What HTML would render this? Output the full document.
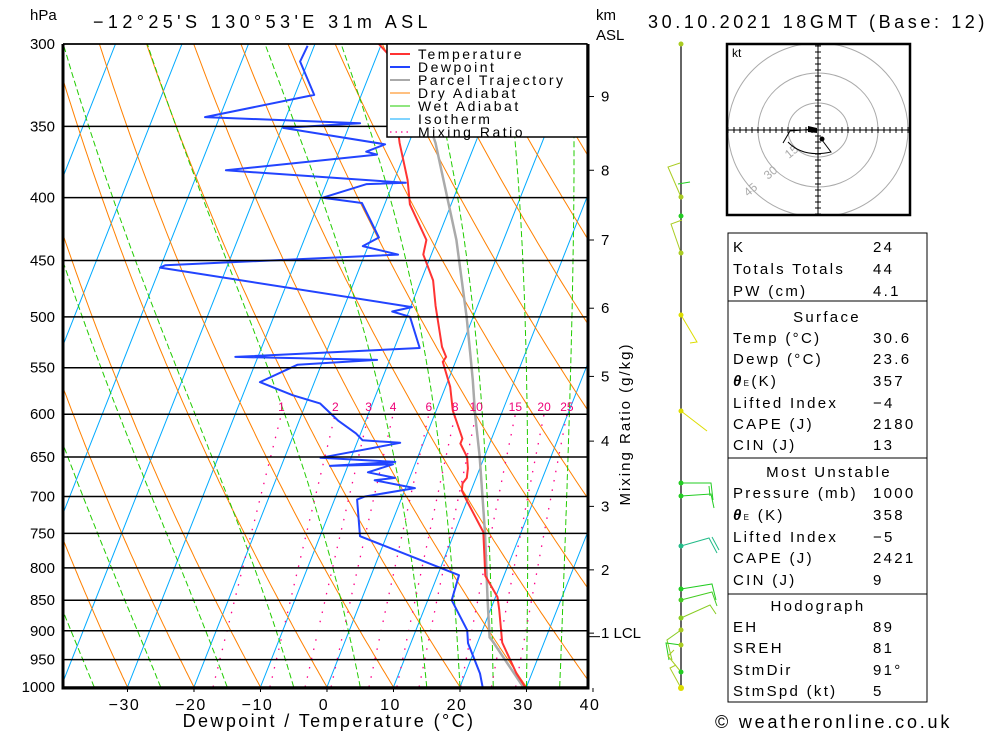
<!DOCTYPE html>
<html><head><meta charset="utf-8">
<style>
body{margin:0;background:#fff;}
svg{display:block;font-family:"Liberation Sans","DejaVu Sans",sans-serif;}
.t{font-size:15px;letter-spacing:2.3px;fill:#000;}
</style></head>
<body>
<svg id="chart" width="1000" height="733" viewBox="0 0 1000 733" xmlns="http://www.w3.org/2000/svg">
<defs><clipPath id="plotclip"><rect x="63" y="44" width="524" height="643"/></clipPath></defs>
<rect width="1000" height="733" fill="#fff"/>
<g id="bg" clip-path="url(#plotclip)"></g>
<g id="series" clip-path="url(#plotclip)"></g>
<g id="axes"></g>

<text x="30" y="20" font-size="15">hPa</text>
<text x="93" y="28" font-size="18" letter-spacing="4.4">−12°25'S 130°53'E 31m ASL</text>
<text x="596" y="20" font-size="15">km</text>
<text x="596" y="40" font-size="15">ASL</text>
<text x="648" y="28" font-size="18" letter-spacing="3.6">30.10.2021 18GMT (Base: 12)</text>
<text x="329" y="727" font-size="18" letter-spacing="2.4" text-anchor="middle">Dewpoint / Temperature (°C)</text>
<text x="630" y="424" font-size="15" letter-spacing="2" text-anchor="middle" transform="rotate(-90 630 424)">Mixing Ratio (g/kg)</text>
<text x="715" y="728" font-size="18" letter-spacing="2.8">© weatheronline.co.uk</text>

<g>
<rect x="387" y="44" width="200" height="93" fill="#fff" stroke="#000" stroke-width="1.5"/>
<g><line x1="390" y1="54" x2="410" y2="54" stroke="#ff3333" stroke-width="2"/><text x="418" y="59" font-size="14" letter-spacing="2.5">Temperature</text></g>
<g><line x1="390" y1="67" x2="410" y2="67" stroke="#2244ff" stroke-width="2"/><text x="418" y="72" font-size="14" letter-spacing="2.5">Dewpoint</text></g>
<g><line x1="390" y1="80" x2="410" y2="80" stroke="#aaa" stroke-width="2"/><text x="418" y="85" font-size="14" letter-spacing="2.5">Parcel Trajectory</text></g>
<g><line x1="390" y1="93" x2="410" y2="93" stroke="#ff8000" stroke-width="1"/><text x="418" y="98" font-size="14" letter-spacing="2.5">Dry Adiabat</text></g>
<g><line x1="390" y1="106" x2="410" y2="106" stroke="#22cc00" stroke-width="1"/><text x="418" y="111" font-size="14" letter-spacing="2.5">Wet Adiabat</text></g>
<g><line x1="390" y1="119" x2="410" y2="119" stroke="#00aaff" stroke-width="1"/><text x="418" y="124" font-size="14" letter-spacing="2.5">Isotherm</text></g>
<g><line x1="390" y1="132" x2="410" y2="132" stroke="#ff0088" stroke-width="1.2" stroke-dasharray="1.5,4"/><text x="418" y="137" font-size="14" letter-spacing="2.5">Mixing Ratio</text></g>
</g>

<g fill="none" stroke-width="1">
<line x1="681" y1="44" x2="681" y2="690" stroke="#000" stroke-width="1.2"/>
<polyline points="681,197 668,167 680,163" stroke="#aacc22"/>
<polyline points="678,184 690,182" stroke="#22cc22"/>
<polyline points="681,253 671,224 682,220" stroke="#aacc22"/>
<polyline points="681,315 697,342 690,343" stroke="#dddd00"/>
<polyline points="681,411 707,431" stroke="#dddd00"/>
<polyline points="681,483 711,483 713,500" stroke="#22cc22"/><line x1="709" y1="486" x2="710" y2="496" stroke="#22cc22"/>
<polyline points="681,496 711,494 714,508" stroke="#22cc22"/>
<polyline points="681,546 709,538 717,553" stroke="#22bb88"/><line x1="712" y1="537" x2="719" y2="550" stroke="#22bb88"/>
<polyline points="681,589 712,584 716,600" stroke="#22cc22"/>
<polyline points="681,600 712,592 717,606" stroke="#44cc22"/>
<polyline points="681,618 710,605 716,614" stroke="#88cc22"/>
<polyline points="681,630 667,640 672,660" stroke="#88cc22"/>
<polyline points="681,645 666,643 669,660" stroke="#22cc22"/>
<polyline points="681,672 668,656 674,650" stroke="#aacc22"/>
<polyline points="681,688 670,668 676,665" stroke="#aacc22"/>
<g stroke="none">
<circle cx="681" cy="44" r="2.5" fill="#aacc22"/><circle cx="681" cy="197" r="2.5" fill="#aacc22"/><circle cx="681" cy="216" r="2.5" fill="#22cc22"/><circle cx="681" cy="253" r="2.5" fill="#aacc22"/><circle cx="681" cy="315" r="2.5" fill="#dddd00"/><circle cx="681" cy="411" r="2.5" fill="#dddd00"/><circle cx="681" cy="483" r="2.5" fill="#22cc22"/><circle cx="681" cy="496" r="2.5" fill="#22cc22"/><circle cx="681" cy="546" r="2.5" fill="#22bb88"/><circle cx="681" cy="589" r="2.5" fill="#22cc22"/><circle cx="681" cy="600" r="2.5" fill="#44cc22"/><circle cx="681" cy="618" r="2.5" fill="#88cc22"/><circle cx="681" cy="630" r="2.5" fill="#aacc22"/><circle cx="681" cy="645" r="2.5" fill="#aacc22"/><circle cx="681" cy="672" r="2.5" fill="#22cc22"/><circle cx="681" cy="688" r="3" fill="#dddd00"/>
</g>
</g>

<g>
<clipPath id="hclip"><rect x="727" y="44" width="183" height="171"/></clipPath>
<g clip-path="url(#hclip)" fill="none" stroke="#aaa" stroke-width="1">
<ellipse cx="818" cy="130" rx="30" ry="27"/><ellipse cx="818" cy="130" rx="60" ry="57"/><ellipse cx="818" cy="130" rx="90" ry="87"/>
</g>
<text x="789" y="159" font-size="12" fill="#aaa" transform="rotate(-40 789 159)">15</text>
<text x="768" y="180" font-size="12" fill="#aaa" transform="rotate(-40 768 180)">30</text>
<text x="748" y="197" font-size="12" fill="#aaa" transform="rotate(-40 748 197)">45</text>
<g clip-path="url(#hclip)"><line x1="727" y1="130" x2="910" y2="130" stroke="#000"/><line x1="818" y1="44" x2="818" y2="215" stroke="#000"/>
<g id="hticks" stroke="#000"></g></g>
<rect x="727" y="44" width="183" height="171" fill="none" stroke="#000" stroke-width="2.5"/>
<text x="732" y="57" font-size="12">kt</text>
<polyline points="783,143 790,131 815,129" fill="none" stroke="#000"/>
<polygon points="808,126 817,128 817,133 808,132" fill="#000"/>
<path d="M788,142 Q803,158 831,152 L822,140" fill="none" stroke="#000"/>
<circle cx="822" cy="139" r="2.5" fill="#000"/>
</g>

<g class="t">
<rect x="728" y="233" width="199" height="68" fill="none" stroke="#000"/>
<rect x="728" y="301" width="199" height="157" fill="none" stroke="#000"/>
<rect x="728" y="458" width="199" height="136" fill="none" stroke="#000"/>
<rect x="728" y="594" width="199" height="108" fill="none" stroke="#000"/>
<text class="t" x="733" y="252">K</text><text class="t" x="873" y="252">24</text>
<text class="t" x="733" y="274">Totals Totals</text><text class="t" x="873" y="274">44</text>
<text class="t" x="733" y="296">PW (cm)</text><text class="t" x="873" y="296">4.1</text>
<text class="t" x="827" y="322" text-anchor="middle">Surface</text>
<text class="t" x="733" y="343">Temp (°C)</text><text class="t" x="873" y="343">30.6</text>
<text class="t" x="733" y="364">Dewp (°C)</text><text class="t" x="873" y="364">23.6</text>
<text class="t" x="733" y="386"><tspan font-style="italic" font-weight="bold">θ</tspan><tspan font-size="8">E</tspan>(K)</text><text class="t" x="873" y="386">357</text>
<text class="t" x="733" y="408">Lifted Index</text><text class="t" x="873" y="408">−4</text>
<text class="t" x="733" y="429">CAPE (J)</text><text class="t" x="873" y="429">2180</text>
<text class="t" x="733" y="450">CIN (J)</text><text class="t" x="873" y="450">13</text>
<text class="t" x="829" y="477" text-anchor="middle">Most Unstable</text>
<text class="t" x="733" y="498">Pressure (mb)</text><text class="t" x="873" y="498">1000</text>
<text class="t" x="733" y="520"><tspan font-style="italic" font-weight="bold">θ</tspan><tspan font-size="8">E</tspan> (K)</text><text class="t" x="873" y="520">358</text>
<text class="t" x="733" y="542">Lifted Index</text><text class="t" x="873" y="542">−5</text>
<text class="t" x="733" y="563">CAPE (J)</text><text class="t" x="873" y="563">2421</text>
<text class="t" x="733" y="585">CIN (J)</text><text class="t" x="873" y="585">9</text>
<text class="t" x="818" y="611" text-anchor="middle">Hodograph</text>
<text class="t" x="733" y="632">EH</text><text class="t" x="873" y="632">89</text>
<text class="t" x="733" y="653">SREH</text><text class="t" x="873" y="653">81</text>
<text class="t" x="733" y="675">StmDir</text><text class="t" x="873" y="675">91°</text>
<text class="t" x="733" y="696">StmSpd (kt)</text><text class="t" x="873" y="696">5</text>
</g>
</svg>
<script>
// ---- data ----
const pressureLevels = [300,350,400,450,500,550,600,650,700,750,800,850,900,950,1000];
const tempTicks = [-30,-20,-10,0,10,20,30,40];
const kmTicks = [1,2,3,4,5,6,7,8,9];
const kmPressure = [904,803,713,631,559,492,433,380,331];
const mixRatios = [1,2,3,4,6,8,10,15,20,25];
const tempP = [1000,975,920,865,845,812,748,705,692,683,676,664,650,634,628,607,596,570,544,539,529,490,467,445,433,405,387,361,306,300];
const tempT = [29.8,27.7,23.7,21.3,20.3,17.2,14.3,9.9,8.6,8.3,8.6,8.2,7.4,5.6,5.6,3.6,2.5,0.7,-1.9,-1.7,-2.9,-6.3,-8.2,-11.2,-11.6,-16.2,-18,-21.4,-28.3,-30.4];
const dewP = [1000,975,921,899,850,811,754,704,700,689,679,676,669,659,661,656,651,633,630,622,607,588,579,565,547,542,539,530,500,495,491,456,454,445,438,431,404,400,390,389,380,369,367,362,351,348,344,330,310,301];
const dewT = [23.4,22.2,18.6,17.7,13.6,13.2,-4.0,-6.6,-5.6,1.4,-5.1,-2.2,-6.6,-3.3,-12.7,-3.1,-14.6,-3.5,-9.3,-10.7,-14.2,-17.9,-22.5,-28.2,-23.6,-11.9,-33.4,-6.2,-9.5,-12.5,-9.8,-50,-49.4,-15,-20.8,-18.9,-23.5,-29.7,-23.9,-18.1,-45.9,-24.1,-25.9,-23.5,-39.8,-28.5,-52.2,-37.1,-41.2,-41];
const parcelP = [1000,919,911,850,749,650,599,563,535,500,433,361,300];
const parcelT = [29.5,22.3,21.5,19.0,14.6,9.3,6.0,3.7,1.7,-1.0,-7.1,-16.0,-27];
const dryStart = [-40,-30,-20,-10,0,10,20,30,40,50,60,70,80,90,100,110,120];
const wetStart = [-35,-25,-15,-5,5,15,20,25,30,35];
const isoList = [-110,-100,-90,-80,-70,-60,-50,-40,-30,-20,-10,0,10,20,30,40];

// ---- axis functions ----
const NS='http://www.w3.org/2000/svg';
function yP(p){return 44+534.1*Math.log(p/300);}
function xT(t,p){return 327+6.65*t+0.395*(687-yP(p));}
function mk(tag,attrs,parent){const e=document.createElementNS(NS,tag);for(const k in attrs)e.setAttribute(k,attrs[k]);parent.appendChild(e);return e;}
function pathFrom(ps,ts){return ps.map((p,i)=>(i?'L':'M')+xT(ts[i],p).toFixed(1)+','+yP(p).toFixed(1)).join(' ');}
const bg=document.getElementById('bg'), ser=document.getElementById('series'), ax=document.getElementById('axes');
const steps=[];for(let p=1000;p>=290;p-=5)steps.push(p);

isoList.forEach(t=>{const l=mk('line',{x1:xT(t,1000),y1:687,x2:xT(t,300),y2:44,stroke:'#00aaff','stroke-width':1},bg);

});
dryStart.forEach(t0=>{const th=t0+273.15;const ts=steps.map(p=>th*Math.pow(p/1000,0.2857)-273.15);
const e=mk('path',{d:pathFrom(steps,ts),fill:'none',stroke:'#ff8000','stroke-width':1},bg);

});
function es(t){return 6.112*Math.exp(17.67*t/(t+243.5));}
wetStart.forEach(t0=>{let T=t0+273.15;const ts=[];
steps.forEach((p,i)=>{ts.push(T-273.15);const tc=T-273.15;const rs=0.622*es(tc)/(p-es(tc));
const L=2.5e6,Rd=287,cp=1005;const dTdp=(Rd*T+L*rs)/(p*(cp+L*L*rs*0.622/(Rd*T*T)));T-=dTdp*5;});
const e=mk('path',{d:pathFrom(steps,ts),fill:'none',stroke:'#22cc00','stroke-width':1,'stroke-dasharray':'6,3'},bg);

});
const mrP=[];for(let p=1000;p>=600;p-=10)mrP.push(p);
mixRatios.forEach(w=>{const ts=mrP.map(p=>{const e=w*p/(622+w);const l=Math.log(e/6.112);return 243.5*l/(17.67-l);});
const e=mk('path',{d:pathFrom(mrP,ts),fill:'none',stroke:'#ff0088','stroke-width':1.3,'stroke-dasharray':'1.5,8'},bg);


const lbl=mk('text',{x:xT(ts[ts.length-1],600),y:yP(600)-3,'font-size':12,fill:'#ee0077','text-anchor':'middle'},ax);
lbl.textContent=w;

});
pressureLevels.forEach(p=>{const y=yP(p);const l=mk('line',{x1:63,y1:y,x2:587,y2:y,stroke:'#000','stroke-width':1.5},ax);


const t=mk('text',{x:55,y:y+5,'font-size':15,'text-anchor':'end'},ax);t.textContent=p;

});
const pp=mk('path',{d:pathFrom(parcelP,parcelT),fill:'none',stroke:'#aaa','stroke-width':2.5},ser);


const dp=mk('path',{d:pathFrom(dewP,dewT),fill:'none',stroke:'#2244ff','stroke-width':2,'stroke-linejoin':'round'},ser);


const tp=mk('path',{d:pathFrom(tempP,tempT),fill:'none',stroke:'#ff3333','stroke-width':2},ser);


const fr=mk('polyline',{points:'63,44 63,688 588,688 588,44',fill:'none',stroke:'#000','stroke-width':3},ax);


const tl=mk('line',{x1:63,y1:44,x2:587,y2:44,stroke:'#000','stroke-width':1.5},ax);


tempTicks.forEach(t=>{const x=xT(t,1000);const tk=mk('line',{x1:x,y1:688,x2:x,y2:692,stroke:'#000'},ax);


const tx=mk('text',{x:x-3,y:710,'font-size':16,'text-anchor':'middle','letter-spacing':1.5},ax);tx.textContent=(t<0?'−'+(-t):t);

});
kmTicks.forEach((k,i)=>{const y=yP(kmPressure[i]);const tk=mk('line',{x1:588,y1:y,x2:594,y2:y,stroke:'#000'},ax);


const tx=mk('text',{x:601,y:y+5,'font-size':15},ax);tx.textContent=k+(k===1?' LCL':'');

});
const lcl=mk('line',{x1:588,y1:yP(910),x2:600,y2:yP(910),stroke:'#000'},ax);


const ht=document.getElementById('hticks');
for(let i=-15;i<=15;i++){if(!i)continue;mk('line',{x1:818+i*6,y1:127,x2:818+i*6,y2:133},ht);mk('line',{x1:815,y1:130+i*6,x2:821,y2:130+i*6},ht);}
</script>
</body></html>
